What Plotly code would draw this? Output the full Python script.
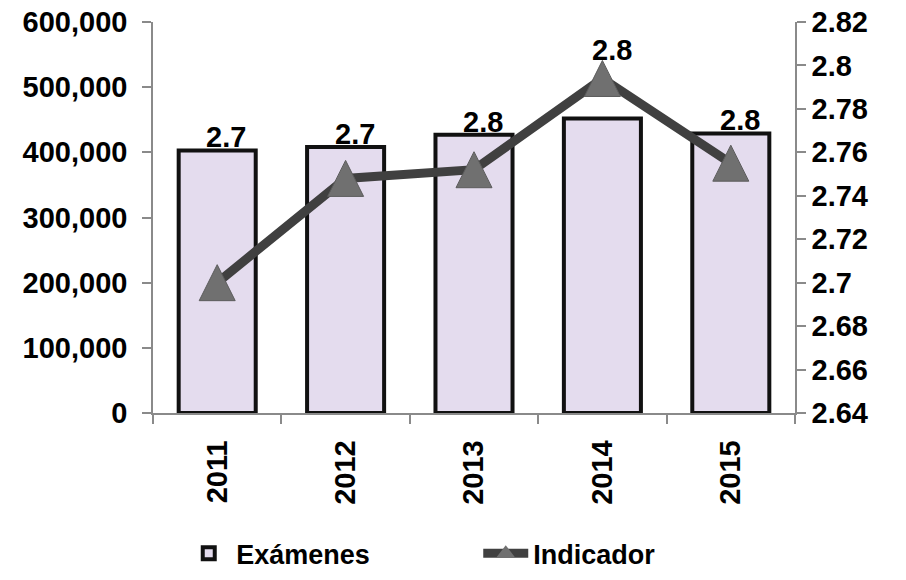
import plotly.graph_objects as go

years = ["2011", "2012", "2013", "2014", "2015"]
examenes = [403000, 408000, 427000, 452000, 429000]
indicador = [2.700, 2.748, 2.752, 2.794, 2.755]

left_tick_vals = [0, 100000, 200000, 300000, 400000, 500000, 600000]
left_tick_labels = ["0", "100,000", "200,000", "300,000", "400,000", "500,000", "600,000"]
right_tick_vals = [2.64, 2.66, 2.68, 2.70, 2.72, 2.74, 2.76, 2.78, 2.80, 2.82]
right_tick_labels = ["2.64", "2.66", "2.68", "2.7", "2.72", "2.74", "2.76", "2.78", "2.8", "2.82"]

FONT = "Arial, Liberation Sans, sans-serif"
L_RANGE = [0, 600000]
R_RANGE = [2.64, 2.82]
MARKER_SIZE = 36
LINE_COLOR = "#404040"
MK_COLOR = "#707070"
AX_COLOR = "#8a8a8a"

fig = go.Figure()

fig.add_trace(go.Bar(
    x=years, y=examenes, name="Exámenes",
    marker=dict(color="#e4dcee", line=dict(color="#111111", width=4)),
    width=0.6, yaxis="y",
))

fig.add_trace(go.Scatter(
    x=years, y=indicador, name="Indicador", yaxis="y2",
    mode="lines+markers", showlegend=False,
    line=dict(color=LINE_COLOR, width=9),
    marker=dict(symbol="arrow-down", angle=180, standoff=MARKER_SIZE / 2,
                size=MARKER_SIZE, color=MK_COLOR,
                line=dict(color="#5c5c5c", width=1)),
))

# legend entry for the indicator (no data drawn)
fig.add_trace(go.Scatter(
    x=[None], y=[None], name="Indicador", yaxis="y2", mode="lines+markers",
    line=dict(color=LINE_COLOR, width=9),
    marker=dict(symbol="triangle-up", size=16, color=MK_COLOR),
))

# data labels (x given as the category serial number)
plot_h = 391.0
for i, yr in enumerate(years):
    txt = f"{indicador[i]:.1f}"
    bar_px = examenes[i] / (L_RANGE[1] - L_RANGE[0]) * plot_h
    mk_px = (indicador[i] - R_RANGE[0]) / (R_RANGE[1] - R_RANGE[0]) * plot_h
    if mk_px + MARKER_SIZE / 2 > bar_px:
        fig.add_annotation(x=i, y=indicador[i], yref="y2", xref="x", text=txt,
                           showarrow=False, yanchor="middle", yshift=28, xshift=10,
                           font=dict(family=FONT, size=29, color="black", weight="bold"))
    else:
        fig.add_annotation(x=i, y=examenes[i], yref="y", xref="x", text=txt,
                           showarrow=False, yanchor="middle", yshift=13, xshift=9,
                           font=dict(family=FONT, size=29, color="black", weight="bold"))

axis_common = dict(showgrid=False, zeroline=False, showline=True, linecolor=AX_COLOR,
                   linewidth=1.5, ticks="outside", ticklen=9, tickcolor=AX_COLOR,
                   tickwidth=1.5, automargin=False, ticklabeloverflow="allow",
                   tickfont=dict(family=FONT, size=29, color="black", weight="bold"))
inner_ticks = dict(showgrid=False, zeroline=False, showline=False, ticks="inside",
                   ticklen=9, tickcolor=AX_COLOR, tickwidth=1.5, showticklabels=False,
                   automargin=False)

fig.update_layout(
    width=906, height=580,
    margin=dict(l=145, r=119, t=14, b=175, autoexpand=False),
    paper_bgcolor="white", plot_bgcolor="white",
    bargap=0.4,
    xaxis=dict(**axis_common, type="category", tickangle=-90, tickson="boundaries",
               categoryorder="array", categoryarray=years, ticklabelstandoff=14),
    xaxis2=dict(**inner_ticks, type="category", tickson="boundaries",
                categoryorder="array", categoryarray=years, overlaying="x",
                anchor="y", side="bottom", range=[-0.5, len(years) - 0.5]),
    yaxis=dict(**axis_common, range=L_RANGE, tickvals=left_tick_vals,
               ticktext=left_tick_labels, ticklabelstandoff=9),
    yaxis3=dict(**inner_ticks, range=L_RANGE, tickvals=left_tick_vals,
                overlaying="y", side="left", anchor="x"),
    yaxis2=dict(**axis_common, range=R_RANGE, tickvals=right_tick_vals,
                ticktext=right_tick_labels, overlaying="y", side="right",
                ticklabelstandoff=0),
    yaxis4=dict(**inner_ticks, range=R_RANGE, tickvals=right_tick_vals,
                overlaying="y", side="right", anchor="x"),
    showlegend=True,
    legend=dict(orientation="h", x=0.044, xanchor="left", y=-0.36, yanchor="middle",
                entrywidth=237, entrywidthmode="pixels", itemwidth=45,
                font=dict(family=FONT, size=27, color="black", weight="bold")),
)

fig.write_html("out.html")
